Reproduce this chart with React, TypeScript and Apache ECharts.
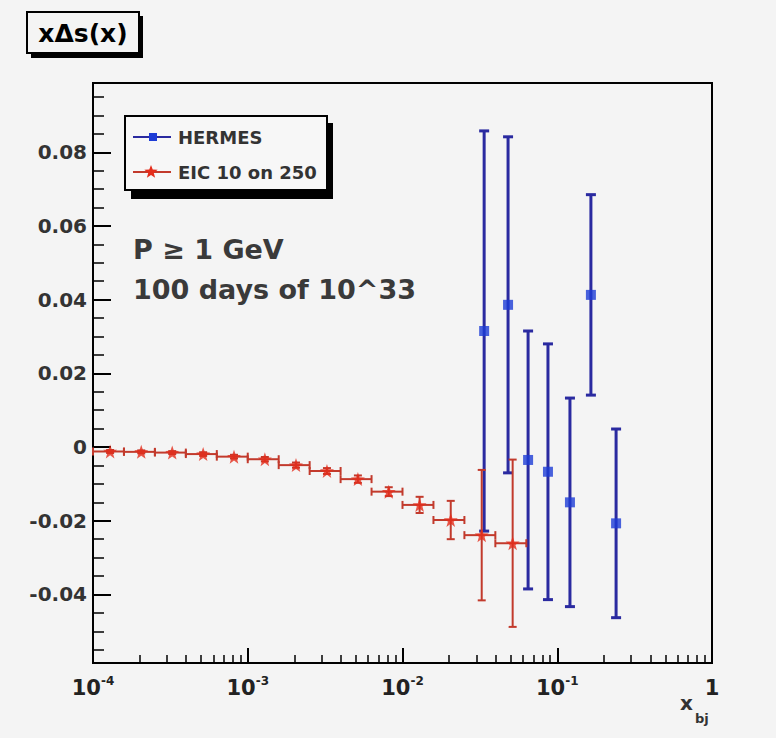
import React, { useEffect, useRef } from 'react';
import * as echarts from 'echarts';

// ---------------- data ----------------
const eicBinEdges = [1.0e-4, 1.585e-4, 2.512e-4, 3.981e-4, 6.31e-4, 1.0e-3, 1.585e-3, 2.512e-3, 3.981e-3, 6.31e-3, 1.0e-2, 1.585e-2, 2.512e-2, 3.981e-2, 6.31e-2];
const eicX = [1.29e-4, 2.05e-4, 3.25e-4, 5.15e-4, 8.15e-4, 1.29e-3, 2.05e-3, 3.25e-3, 5.15e-3, 8.15e-3, 1.29e-2, 2.05e-2, 3.25e-2, 5.15e-2];
const eicY = [-0.0012, -0.0013, -0.0015, -0.0019, -0.0026, -0.0033, -0.0049, -0.0065, -0.0087, -0.0121, -0.0157, -0.0198, -0.0239, -0.0261];
const eicErr = [0.0004, 0.0004, 0.0004, 0.0005, 0.0005, 0.0006, 0.0007, 0.0008, 0.001, 0.0012, 0.0022, 0.0052, 0.0177, 0.0227];

const hermesX = [0.0337, 0.0481, 0.0648, 0.0871, 0.1208, 0.165, 0.24];
const hermesY = [0.0315, 0.0386, -0.0035, -0.0067, -0.015, 0.0413, -0.0207];
const hermesErr = [0.0543, 0.0456, 0.035, 0.0347, 0.0283, 0.0272, 0.0256];

const xMajorTicks = [1e-4, 1e-3, 1e-2, 1e-1, 1];
const xMinorMultipliers = [2, 3, 4, 5, 6, 7, 8, 9];
const yTickLabels = [-0.04, -0.02, 0, 0.02, 0.04, 0.06, 0.08];
const yMin = -0.0586;
const yMax = 0.0988;

const legendNames = ['HERMES', 'EIC 10 on 250'];
const titleText = 'x\u0394s(x)';
const noteLines = ['P \u2265 1 GeV', '100 days of 10^33'];

// ---------------- helpers ----------------
const xMinorTicks: number[] = [];
for (let i = 0; i < xMajorTicks.length - 1; i++) {
  xMinorMultipliers.forEach((m) => xMinorTicks.push(m * xMajorTicks[i]));
}
const yMinorTicks: number[] = [];
for (let k = -11; k <= 19; k++) {
  const v = Math.round(k * 5) / 1000;
  if (Math.abs(v * 50 - Math.round(v * 50)) > 1e-9) yMinorTicks.push(v);
}

const FONT = '"DejaVu Sans", "Liberation Sans", sans-serif';
const BLUE_LINE = '#2a2aa0';
const BLUE_MARK = '#1d3cd6';
const RED_LINE = '#c23a2c';
const RED_MARK = '#e42d1b';
const STAR = 'path://M0,-10 L2.35,-3.24 L9.51,-3.09 L3.8,1.24 L5.88,8.09 L0,4 L-5.88,8.09 L-3.8,1.24 L-9.51,-3.09 L-2.35,-3.24 Z';
const starPoints = (cx: number, cy: number, r: number) => {
  const pts: number[][] = [];
  for (let i = 0; i < 10; i++) {
    const a = -Math.PI / 2 + (i * Math.PI) / 5;
    const rr = i % 2 === 0 ? r : r * 0.42;
    pts.push([cx + rr * Math.cos(a), cy + rr * Math.sin(a)]);
  }
  return pts;
};

const makeErrRender = (color: string, capH: number, capV: number, lw: number) => (_params: any, api: any) => {
  const x = api.value(0);
  const y = api.value(1);
  const xl = api.value(2);
  const xh = api.value(3);
  const yl = api.value(4);
  const yh = api.value(5);
  const p = api.coord([x, y]);
  const style = { stroke: color, lineWidth: lw };
  const children: any[] = [];
  if (xl !== xh) {
    const a = api.coord([xl, y]);
    const b = api.coord([xh, y]);
    children.push({ type: 'line', shape: { x1: a[0], y1: p[1], x2: b[0], y2: p[1] }, style });
    children.push({ type: 'line', shape: { x1: a[0], y1: p[1] - capH, x2: a[0], y2: p[1] + capH }, style });
    children.push({ type: 'line', shape: { x1: b[0], y1: p[1] - capH, x2: b[0], y2: p[1] + capH }, style });
  }
  const t = api.coord([x, yh]);
  const bt = api.coord([x, yl]);
  children.push({ type: 'line', shape: { x1: p[0], y1: t[1], x2: p[0], y2: bt[1] }, style });
  if (capV > 0) {
    children.push({ type: 'line', shape: { x1: p[0] - capV, y1: t[1], x2: p[0] + capV, y2: t[1] }, style });
    children.push({ type: 'line', shape: { x1: p[0] - capV, y1: bt[1], x2: p[0] + capV, y2: bt[1] }, style });
  }
  return { type: 'group', children };
};

export default function App() {
  const ref = useRef<HTMLDivElement>(null);

  useEffect(() => {
    if (!ref.current) return;
    const chart = echarts.init(ref.current, undefined, { renderer: 'svg' });

    const eicData = eicX.map((x, i) => [x, eicY[i], eicBinEdges[i], eicBinEdges[i + 1], eicY[i] - eicErr[i], eicY[i] + eicErr[i]]);
    const hermesData = hermesX.map((x, i) => [x, hermesY[i], x, x, hermesY[i] - hermesErr[i], hermesY[i] + hermesErr[i]]);

    const option: any = {
      animation: false,
      backgroundColor: '#f4f4f4',
      grid: {
        left: 93,
        right: 64,
        top: 83,
        bottom: 75,
        show: true,
        borderColor: '#000',
        borderWidth: 2,
        backgroundColor: 'transparent',
      },
      xAxis: [
        {
          type: 'log',
          logBase: 10,
          min: 1e-4,
          max: 1,
          position: 'bottom',
          axisLine: { show: false, onZero: false },
          splitLine: { show: false },
          axisTick: { show: true, inside: true, length: 15, customValues: xMajorTicks, lineStyle: { color: '#000', width: 2 } },
          axisLabel: {
            show: true,
            customValues: xMajorTicks,
            margin: 12,
            color: '#222',
            formatter: (v: number) => {
              const e = Math.round(Math.log10(v));
              return e === 0 ? '{b|1}' : `{b|10}{s|${e}}`;
            },
            rich: {
              b: { fontFamily: FONT, fontWeight: 'bold', fontSize: 21, color: '#222', lineHeight: 26 },
              s: { fontFamily: FONT, fontWeight: 'bold', fontSize: 12, color: '#222', verticalAlign: 'top', lineHeight: 14 },
            },
          },
        },
        {
          type: 'log',
          logBase: 10,
          min: 1e-4,
          max: 1,
          position: 'bottom',
          offset: 0,
          axisLine: { show: false, onZero: false },
          splitLine: { show: false },
          axisLabel: { show: false },
          axisTick: { show: true, inside: true, length: 8, customValues: xMinorTicks, lineStyle: { color: '#000', width: 1.5 } },
        },
      ],
      yAxis: [
        {
          type: 'value',
          min: yMin,
          max: yMax,
          position: 'left',
          axisLine: { show: false, onZero: false },
          splitLine: { show: false },
          axisTick: { show: true, inside: true, length: 18, customValues: yTickLabels, lineStyle: { color: '#000', width: 2 } },
          axisLabel: {
            show: true,
            customValues: yTickLabels,
            margin: 6,
            color: '#333',
            fontFamily: FONT,
            fontWeight: 'bold',
            fontSize: 20,
            formatter: (v: number) => (Math.abs(v) < 1e-9 ? '0' : v.toFixed(2)),
          },
        },
        {
          type: 'value',
          min: yMin,
          max: yMax,
          position: 'left',
          offset: 0,
          axisLine: { show: false, onZero: false },
          splitLine: { show: false },
          axisLabel: { show: false },
          axisTick: { show: true, inside: true, length: 11, customValues: yMinorTicks, lineStyle: { color: '#000', width: 1.5 } },
        },
      ],
      series: [
        {
          name: legendNames[0] + ' errors',
          type: 'custom',
          xAxisIndex: 0,
          yAxisIndex: 0,
          renderItem: makeErrRender(BLUE_LINE, 0, 5, 3),
          encode: { x: 0, y: 1 },
          data: hermesData,
          z: 2,
        },
        {
          name: legendNames[0],
          type: 'scatter',
          xAxisIndex: 0,
          yAxisIndex: 0,
          symbol: 'rect',
          symbolSize: 10,
          itemStyle: { color: BLUE_MARK },
          data: hermesX.map((x, i) => [x, hermesY[i]]),
          z: 3,
        },
        {
          name: legendNames[1] + ' errors',
          type: 'custom',
          xAxisIndex: 0,
          yAxisIndex: 0,
          renderItem: makeErrRender(RED_LINE, 4, 4, 2),
          encode: { x: 0, y: 1 },
          data: eicData,
          z: 4,
        },
        {
          name: legendNames[1],
          type: 'scatter',
          xAxisIndex: 0,
          yAxisIndex: 0,
          symbol: STAR,
          symbolSize: 14,
          itemStyle: { color: RED_MARK },
          data: eicX.map((x, i) => [x, eicY[i]]),
          z: 5,
        },
      ],
      graphic: [
        // title box
        { type: 'rect', shape: { x: 31, y: 16, width: 112, height: 42 }, style: { fill: '#000' } },
        { type: 'rect', shape: { x: 27, y: 12, width: 112, height: 41 }, style: { fill: '#f4f4f4', stroke: '#000', lineWidth: 2 } },
        { type: 'text', x: 83, y: 33, style: { text: titleText, font: `bold 25px ${FONT}`, fill: '#000', textAlign: 'center', textVerticalAlign: 'middle' } },
        // legend box
        { type: 'rect', shape: { x: 131, y: 123, width: 202, height: 76 }, style: { fill: '#000' } },
        { type: 'rect', shape: { x: 125, y: 116, width: 202, height: 74 }, style: { fill: '#f7f7f7', stroke: '#000', lineWidth: 2 } },
        { type: 'line', shape: { x1: 133, y1: 137, x2: 171, y2: 137 }, style: { stroke: BLUE_LINE, lineWidth: 2 } },
        { type: 'rect', shape: { x: 149, y: 133, width: 8, height: 8 }, style: { fill: BLUE_MARK } },
        { type: 'text', x: 178, y: 137, style: { text: legendNames[0], font: `bold 18px ${FONT}`, fill: '#333', textVerticalAlign: 'middle' } },
        { type: 'line', shape: { x1: 133, y1: 172, x2: 171, y2: 172 }, style: { stroke: RED_LINE, lineWidth: 2 } },
        { type: 'polygon', shape: { points: starPoints(151, 172, 7) }, style: { fill: RED_MARK } },
        { type: 'text', x: 178, y: 172, style: { text: legendNames[1], font: `bold 18px ${FONT}`, fill: '#333', textVerticalAlign: 'middle' } },
        // annotation
        { type: 'text', x: 133, y: 249, style: { text: noteLines[0], font: `bold 27px ${FONT}`, fill: '#3a3a3a', textVerticalAlign: 'middle' } },
        { type: 'text', x: 133, y: 289, style: { text: noteLines[1], font: `bold 27px ${FONT}`, fill: '#3a3a3a', textVerticalAlign: 'middle' } },
        // x axis title
        { type: 'text', x: 680, y: 703, style: { text: 'x', font: `bold 20px ${FONT}`, fill: '#333', textVerticalAlign: 'middle' } },
        { type: 'text', x: 695, y: 718, style: { text: 'bj', font: `bold 13px ${FONT}`, fill: '#333', textVerticalAlign: 'middle' } },
      ],
    };

    chart.setOption(option);
    return () => chart.dispose();
  }, []);

  return <div ref={ref} style={{ position: 'fixed', left: 0, top: 0, width: 776, height: 738 }} />;
}
